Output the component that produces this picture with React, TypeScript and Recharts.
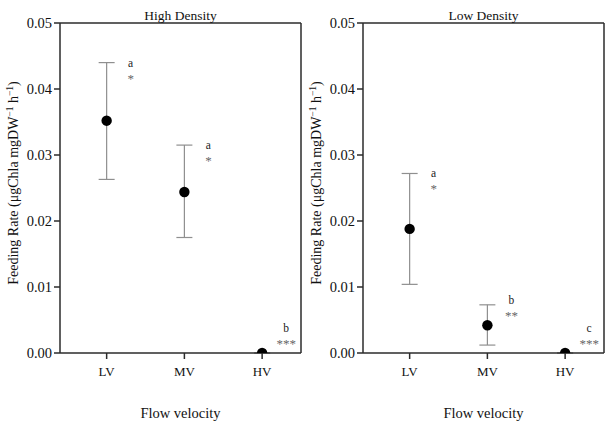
import React from "react";
import {
  ScatterChart,
  Scatter,
  XAxis,
  YAxis,
  ErrorBar,
  ReferenceLine,
} from "recharts";

const categories = ["LV", "MV", "HV"];
const yTicks = [0, 0.01, 0.02, 0.03, 0.04, 0.05];

// High density: mean, lower and upper error bar ends
const highMeans = [0.0352, 0.0244, 0.0];
const highLower = [0.0263, 0.0175, 0.0];
const highUpper = [0.0440, 0.0315, 0.0];
const highLetters = ["a", "a", "b"];
const highStars = ["*", "*", "***"];

// Low density
const lowMeans = [0.0188, 0.0042, 0.0];
const lowLower = [0.0104, 0.0012, 0.0];
const lowUpper = [0.0272, 0.0073, 0.0];
const lowLetters = ["a", "b", "c"];
const lowStars = ["*", "**", "***"];

const FONT = "Liberation Serif";
const AXIS = "#2b2b2b";

function buildRows(
  means: number[],
  lower: number[],
  upper: number[],
  letters: string[],
  stars: string[]
) {
  return means.map((m, i) => ({
    x: i + 1,
    y: m,
    err: [m - lower[i], upper[i] - m],
    labelY: Math.max(upper[i], m + 0.0038),
    letter: letters[i],
    stars: stars[i],
  }));
}

const R = 5.2;

// zero means sit on the x axis, so only the upper half shows
const Dot = (props: any) => {
  const { cx, cy, payload } = props;
  if (cx == null || cy == null) return null;
  if (payload.y <= 0) {
    return (
      <path
        d={`M${cx - R},${cy} A${R},${R} 0 0 1 ${cx + R},${cy} Z`}
        fill="#000"
      />
    );
  }
  return <circle cx={cx} cy={cy} r={R} fill="#000" />;
};

const Note = (props: any) => {
  const { cx, cy, payload } = props;
  if (cx == null || cy == null) return null;
  return (
    <g fontFamily={FONT} textAnchor="middle">
      <text x={cx + 24} y={cy + 4} fill="#222" fontSize={11.5}>
        {payload.letter}
      </text>
      <text x={cx + 24} y={cy + 20} fill="#666" fontSize={13}>
        {payload.stars}
      </text>
    </g>
  );
};

const YLabel = (props: any) => {
  const { viewBox } = props;
  const cx = viewBox.x + 18;
  const cy = viewBox.y + viewBox.height / 2 - 5;
  return (
    <text
      x={cx}
      y={cy}
      transform={`rotate(-90 ${cx} ${cy})`}
      textAnchor="middle"
      fontFamily={FONT}
      fontSize={14}
      fill="#111"
    >
      Feeding Rate (μgChla mgDW
      <tspan fontSize={9.5} dy={-5}>−1</tspan>
      <tspan dy={5}> h</tspan>
      <tspan fontSize={9.5} dy={-5}>−1</tspan>
      <tspan dy={5}>)</tspan>
    </text>
  );
};

function Panel({ title, rows }: { title: string; rows: any[] }) {
  return (
    <ScatterChart
      width={303}
      height={421}
      margin={{ top: 23, right: 2, bottom: 0, left: 0 }}
    >
      <XAxis
        type="number"
        dataKey="x"
        domain={[0.4, 3.5]}
        ticks={[1, 2, 3]}
        tickFormatter={(v: number) => categories[v - 1]}
        height={68}
        tickSize={6}
        tickMargin={8}
        stroke={AXIS}
        strokeWidth={1.5}
        tick={{ fill: "#111", fontFamily: FONT, fontSize: 13 }}
        label={{
          value: "Flow velocity",
          position: "insideBottom",
          offset: 3,
          fill: "#111",
          fontFamily: FONT,
          fontSize: 14.5,
        }}
      />
      <YAxis
        yAxisId="main"
        type="number"
        dataKey="y"
        domain={[0, 0.05]}
        ticks={yTicks}
        tickFormatter={(v: number) => v.toFixed(2)}
        width={60}
        tickSize={6}
        tickMargin={2}
        stroke={AXIS}
        strokeWidth={1.5}
        tick={{ fill: "#111", fontFamily: FONT, fontSize: 14.5 }}
        label={{ content: YLabel }}
      />
      {/* hidden twin axis so the letter/star notes sit at labelY on the same scale */}
      <YAxis
        yAxisId="notes"
        type="number"
        dataKey="labelY"
        domain={[0, 0.05]}
        hide
      />
      <ReferenceLine
        yAxisId="main"
        y={0.05}
        stroke={AXIS}
        strokeWidth={1.5}
        ifOverflow="visible"
        label={{
          value: title,
          position: "top",
          offset: 3,
          fill: "#111",
          fontFamily: FONT,
          fontSize: 13.5,
        }}
      />
      <ReferenceLine
        yAxisId="main"
        x={3.5}
        stroke={AXIS}
        strokeWidth={1.5}
        ifOverflow="visible"
      />
      <Scatter
        yAxisId="main"
        data={rows}
        shape={Dot}
        isAnimationActive={false}
      >
        <ErrorBar
          dataKey="err"
          direction="y"
          width={8}
          stroke="#8f8f8f"
          strokeWidth={1.2}
        />
      </Scatter>
      <Scatter
        yAxisId="notes"
        data={rows}
        shape={Note}
        isAnimationActive={false}
      />
    </ScatterChart>
  );
}

export default function App() {
  const high = buildRows(highMeans, highLower, highUpper, highLetters, highStars);
  const low = buildRows(lowMeans, lowLower, lowUpper, lowLetters, lowStars);
  return (
    <div
      style={{
        position: "absolute",
        left: 0,
        top: 0,
        width: 607,
        height: 421,
        background: "#fff",
        display: "flex",
        fontFamily: FONT,
      }}
    >
      <Panel title="High Density" rows={high} />
      <Panel title="Low Density" rows={low} />
    </div>
  );
}
